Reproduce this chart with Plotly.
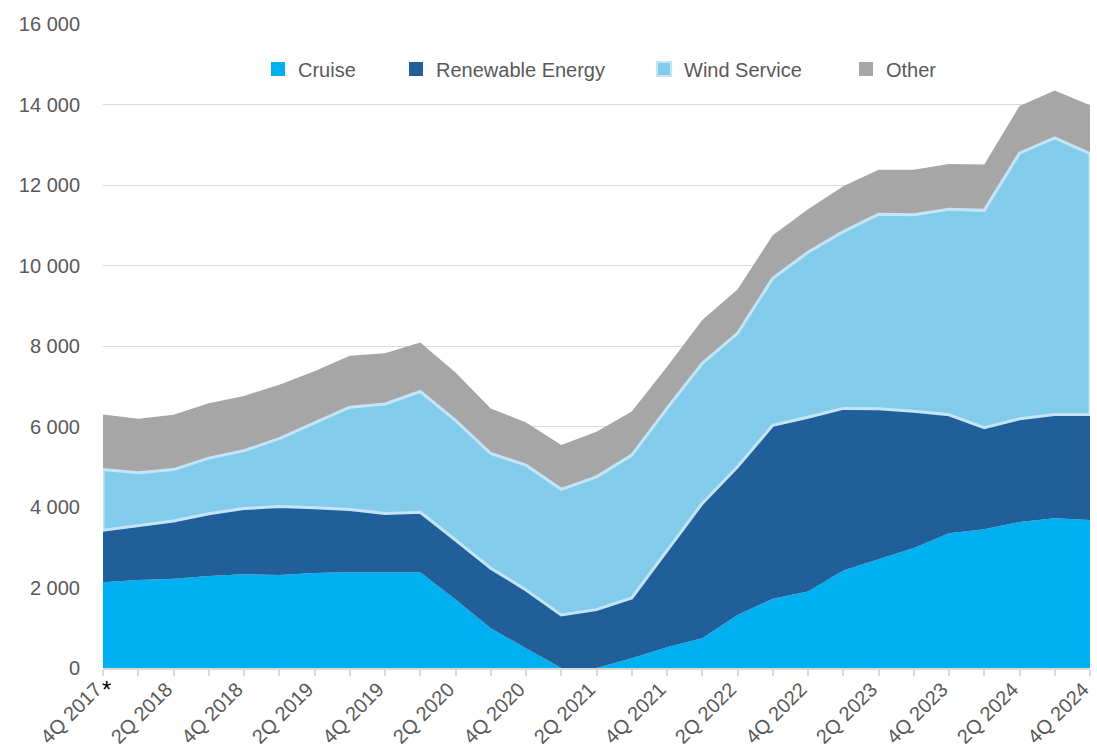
import numpy as np
import plotly.graph_objects as go

quarters = ["4Q 2017", "1Q 2018", "2Q 2018", "3Q 2018", "4Q 2018", "1Q 2019", "2Q 2019", "3Q 2019",
            "4Q 2019", "1Q 2020", "2Q 2020", "3Q 2020", "4Q 2020", "1Q 2021", "2Q 2021", "3Q 2021",
            "4Q 2021", "1Q 2022", "2Q 2022", "3Q 2022", "4Q 2022", "1Q 2023", "2Q 2023", "3Q 2023",
            "4Q 2023", "1Q 2024", "2Q 2024", "3Q 2024", "4Q 2024"]

cruise = [2130, 2185, 2220, 2285, 2330, 2310, 2360, 2380, 2380, 2380, 1700, 990, 490, 0, 0, 240,
          515, 740, 1315, 1720, 1900, 2420, 2700, 2980, 3350, 3445, 3630, 3720, 3680]
renewable = [1290, 1345, 1430, 1545, 1630, 1700, 1620, 1560, 1460, 1490, 1480, 1490, 1450, 1320, 1450, 1500,
             2385, 3350, 3685, 4310, 4330, 4030, 3740, 3400, 2940, 2525, 2560, 2580, 2620]
wind = [1510, 1320, 1280, 1385, 1440, 1690, 2110, 2540, 2720, 3000, 2970, 2850, 3100, 3120, 3300, 3550,
        3550, 3480, 3315, 3650, 4100, 4390, 4835, 4880, 5110, 5400, 6600, 6870, 6480]
other = [1370, 1340, 1360, 1365, 1360, 1340, 1280, 1280, 1260, 1220, 1190, 1120, 1060, 1100, 1120, 1080,
         1035, 1075, 1090, 1070, 1070, 1130, 1105, 1120, 1120, 1140, 1170, 1180, 1200]

series_names = ["Cruise", "Renewable Energy", "Wind Service", "Other"]
y_ticks = [0, 2000, 4000, 6000, 8000, 10000, 12000, 14000, 16000]

colors = ["#00B0F0", "#215F9A", "#83CBEB", "#A6A6A6"]
border_col = "#C4E5F6"
text_col = "#595959"
grid_col = "#D9D9D9"
FONT = "Liberation Sans, Arial, sans-serif"

W, H = 1097, 752
L, R, T, B = 103, 7, 24, 84

fig = go.Figure()
for name, vals, col in zip(series_names, [cruise, renewable, wind, other], colors):
    fig.add_trace(go.Scatter(x=quarters, y=vals, name=name, stackgroup="s", mode="none",
                             fillcolor=col, showlegend=False, hoverinfo="x+y+name"))

# outline of Wind Service band
ren_top = np.array(cruise) + np.array(renewable)
wind_top = ren_top + np.array(wind)
ox = quarters + quarters[::-1] + [quarters[0]]
oy = list(wind_top) + list(ren_top[::-1]) + [wind_top[0]]
fig.add_trace(go.Scatter(x=ox, y=oy, mode="lines", line=dict(color=border_col, width=3),
                         showlegend=False, hoverinfo="skip"))

# legend entries (square markers), each in its own legend for exact placement
marker_px = [278, 416, 664, 866]
legend_keys = ["legend", "legend2", "legend3", "legend4"]
pw = W - L - R
ph = H - T - B
for name, col, mx, lk in zip(series_names, colors, marker_px, legend_keys):
    mline = dict(color=border_col, width=2) if name == "Wind Service" else dict(width=0)
    fig.add_trace(go.Scatter(x=[None], y=[None], mode="markers", name=name, legend=lk,
                             marker=dict(symbol="square", size=14, color=col, line=mline)))

leg_common = dict(font=dict(family=FONT, size=20, color=text_col), bgcolor="rgba(0,0,0,0)",
                  yanchor="middle", xanchor="left", itemwidth=30, borderwidth=0)
leg_y = (H - B - 69) / ph
layout_legends = {}
for mx, lk in zip(marker_px, legend_keys):
    layout_legends[lk] = dict(x=(mx - 20 - L) / pw, y=leg_y, **leg_common)

tickvals = quarters
ticktext = [q if i % 2 == 0 else "" for i, q in enumerate(quarters)]

fig.update_layout(
    width=W, height=H,
    margin=dict(l=L, r=R, t=T, b=B, autoexpand=False),
    plot_bgcolor="white", paper_bgcolor="white",
    separators=". ",
    font=dict(family=FONT, size=20, color=text_col),
    xaxis=dict(type="category", range=[0, len(quarters) - 1], tickmode="array", tickvals=tickvals,
               ticktext=ticktext, tickangle=-45, ticks="outside", ticklen=6, tickcolor=grid_col,
               tickwidth=1.5, showline=True, linecolor=grid_col, linewidth=1.5, showgrid=False,
               ticklabelstandoff=-6, ticklabelshift=-7,
               tickfont=dict(family=FONT, size=20, color=text_col), zeroline=False, automargin=False),
    yaxis=dict(range=[0, 16000], tickvals=y_ticks, tickformat=",d", showgrid=True, gridcolor=grid_col,
               gridwidth=1, zeroline=False, ticks="", showline=False, ticklabelstandoff=22,
               tickfont=dict(family=FONT, size=20, color=text_col), automargin=False),
    showlegend=True,
    **layout_legends,
)

fig.add_annotation(x=quarters[0], y=0, xref="x", yref="y", text="*", showarrow=False,
                   font=dict(family=FONT, size=24, color="black"), xshift=3, yshift=-21)

fig.write_html("out.html", config={"displayModeBar": False},
               post_script="document.body.style.margin='0';document.body.style.overflow='hidden';")
